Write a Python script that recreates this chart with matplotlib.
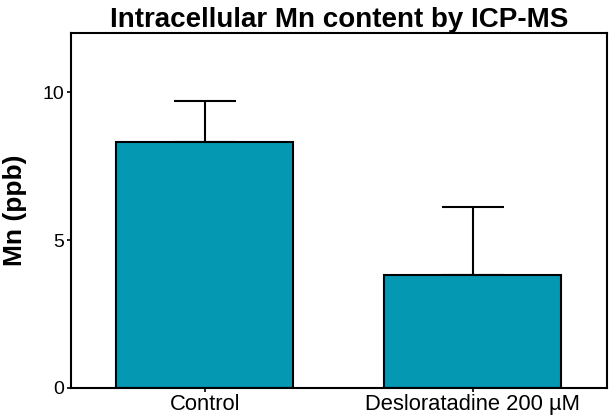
import matplotlib

matplotlib.use("Agg")
import matplotlib.pyplot as plt

groups = ["Control", "Desloratadine 200 µM"]
means = [8.31, 3.82]
errors = [1.39, 2.29]

plt.rcParams["font.family"] = ["Liberation Sans", "DejaVu Sans"]

fig = plt.figure(figsize=(6.1, 4.19), dpi=100)
ax = fig.add_axes([0.116, 0.074, 0.879, 0.847])

x = range(len(groups))
ax.bar(x, means, width=0.66, color="#0598B2", edgecolor="black", linewidth=1.5, zorder=2)
ax.errorbar(x, means, yerr=[[0, 0], errors], fmt="none", ecolor="black",
            elinewidth=1.5, capsize=22, capthick=1.5, zorder=1)

ax.set_xlim(-0.5, 1.5)
ax.set_ylim(0, 12)
ax.set_yticks([0, 5, 10])
ax.set_xticks(list(x))
ax.set_xticklabels(groups)
ax.tick_params(axis="y", labelsize=14, width=1.2, length=3, pad=2)
ax.tick_params(axis="x", labelsize=15.8, width=1.2, length=3, pad=1)
for s in ax.spines.values():
    s.set_linewidth(1.5)

ax.set_ylabel("Mn (ppb)", fontsize=19, fontweight="bold", labelpad=11)
ax.set_title("Intracellular Mn content by ICP-MS", fontsize=20, fontweight="bold", pad=3)

fig.savefig("out.png", dpi=100)
